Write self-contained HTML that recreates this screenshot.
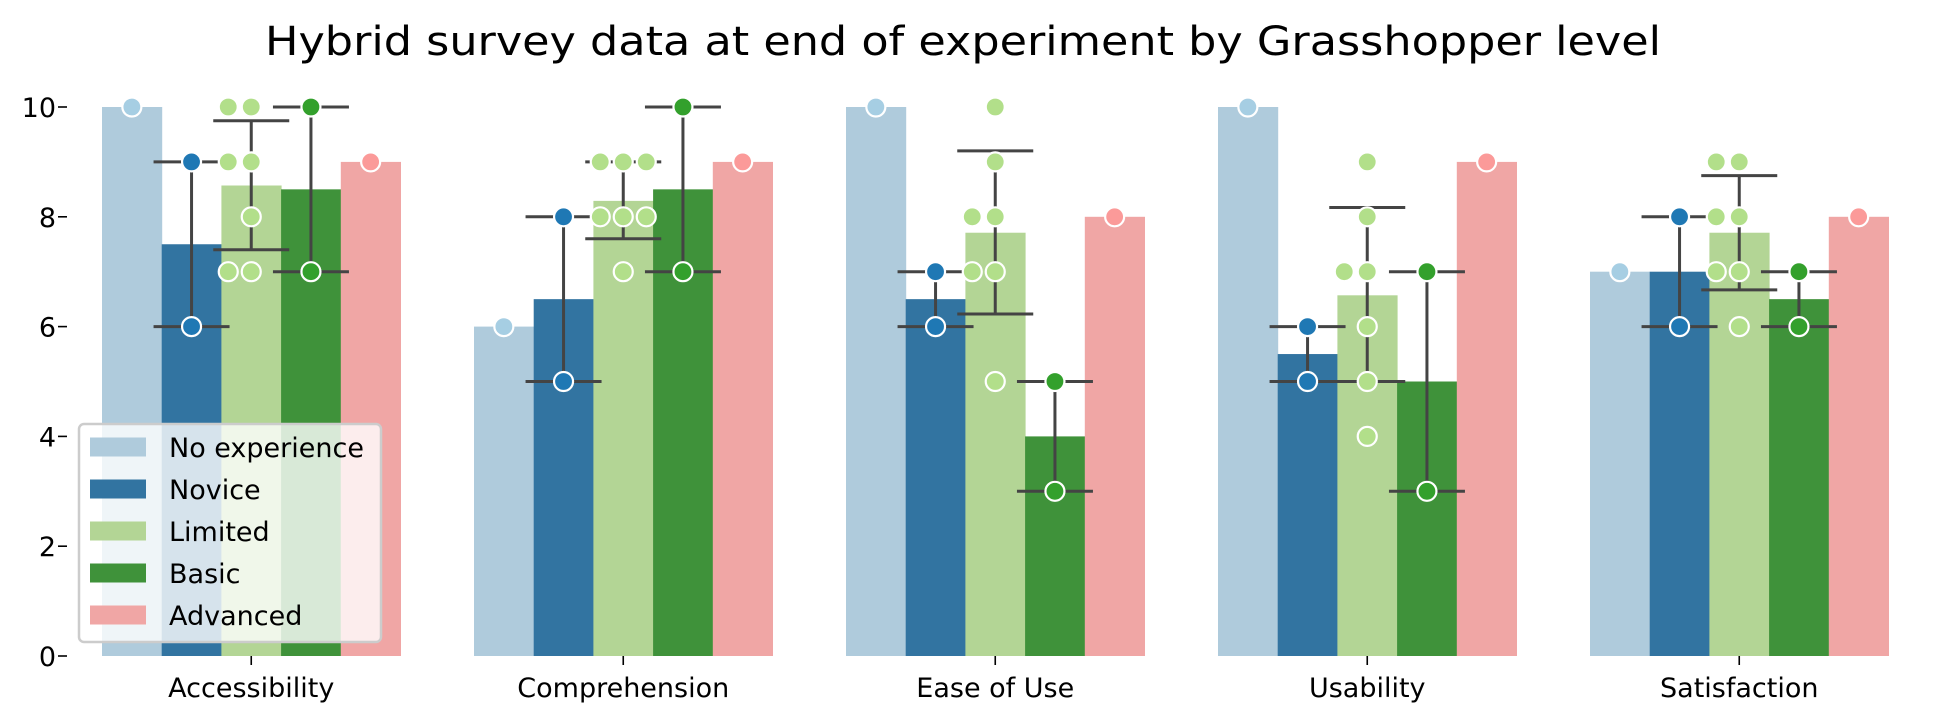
<!DOCTYPE html>
<html><head><meta charset="utf-8"><style>
html,body{margin:0;padding:0;background:#fff}
svg{display:block;font-family:"DejaVu Sans","Liberation Sans",sans-serif}
</style></head><body>
<svg id="chart" width="1944" height="723" viewBox="0 0 1944 723">
<text x="963" y="55" text-anchor="middle" font-size="40" textLength="1396" lengthAdjust="spacingAndGlyphs">Hybrid survey data at end of experiment by Grasshopper level</text>
<g id="axes"></g>
<g id="bars"></g>
<g id="errs"></g>
<g id="dots"></g>
<g id="legend"></g>
</svg>
<script>
const categories = ["Accessibility","Comprehension","Ease of Use","Usability","Satisfaction"];
const levels = ["No experience","Novice","Limited","Basic","Advanced"];
const barColors = ["#afcbdc","#3274a1","#b3d595","#3f923a","#f0a6a5"];
const dotColors = ["#a6cee3","#1f78b4","#b2df8a","#33a02c","#fb9a99"];
const yTicks = [0,2,4,6,8,10];
// means per category, per level
const meanNoExp    = [10, 6, 10, 10, 7];
const meanNovice   = [7.5, 6.5, 6.5, 5.5, 7];
const meanLimited  = [8.57, 8.29, 7.71, 6.57, 7.71];
const meanBasic    = [8.5, 8.5, 4, 5, 6.5];
const meanAdvanced = [9, 9, 8, 9, 8];
// error bar ranges [low, high]
const errNovice  = [[6,9],[5,8],[6,7],[5,6],[6,8]];
const errLimited = [[7.4,9.75],[7.6,9],[6.23,9.2],[5,8.17],[6.67,8.75]];
const errBasic   = [[7,10],[7,10],[3,5],[3,7],[6,7]];
// individual points
const ptsNoExp    = [[10],[6],[10],[10],[7]];
const ptsNovice   = [[9,6],[8,5],[7,6],[6,5],[8,6]];
const ptsLimited  = [[10,10,9,9,8,7,7],[9,9,9,8,8,8,7],[10,9,8,8,7,7,5],[9,8,7,7,6,5,4],[9,9,8,8,7,7,6]];
const ptsBasic    = [[10,7],[10,7],[5,3],[7,3],[7,6]];
const ptsAdvanced = [[9],[9],[8],[9],[8]];

const means=[meanNoExp,meanNovice,meanLimited,meanBasic,meanAdvanced];
const errs=[null,errNovice,errLimited,errBasic,null];
const pts=[ptsNoExp,ptsNovice,ptsLimited,ptsBasic,ptsAdvanced];
const NS="http://www.w3.org/2000/svg";
const Y0=656,Y10=107;
const y=v=>Y0+(Y10-Y0)*v/10;
const G0=102,PITCH=372,BW=59.7;
const barX=(c,l)=>G0+c*PITCH+l*BW;
const catX=c=>G0+c*PITCH+2.5*BW;
function mk(tag,attrs,parent){const e=document.createElementNS(NS,tag);for(const k in attrs)e.setAttribute(k,attrs[k]);parent.appendChild(e);return e;}
const axes=document.getElementById('axes'),bars=document.getElementById('bars'),eg=document.getElementById('errs'),dg=document.getElementById('dots'),lg=document.getElementById('legend');
yTicks.forEach(t=>{
  const l=mk('line',{x1:58,x2:67,y1:y(t),y2:y(t),stroke:'#000','stroke-width':1.6},axes);
  
  
  const tx=mk('text',{x:56,y:y(t)+10,'text-anchor':'end','font-size':27},axes);
  tx.textContent=t;
  
  
});
categories.forEach((c,i)=>{
  const l=mk('line',{x1:catX(i),x2:catX(i),y1:Y0,y2:Y0+9,stroke:'#000','stroke-width':1.6},axes);
  
  
  const tx=mk('text',{x:catX(i),y:697,'text-anchor':'middle','font-size':27},axes);
  tx.textContent=c;
  
  
});
categories.forEach((c,ci)=>{
  levels.forEach((lv,li)=>{
    const v=means[li][ci];
    const r=mk('rect',{x:barX(ci,li),y:y(v),width:BW+0.5,height:Y0-y(v),fill:barColors[li]},bars);
    
    
    const cx=barX(ci,li)+BW/2;
    if(errs[li]){
      const [lo,hi]=errs[li][ci];
      const g=mk('g',{stroke:'#444','stroke-width':3},eg);
      
      
      mk('line',{x1:cx,x2:cx,y1:y(lo),y2:y(hi)},g);
      mk('line',{x1:cx-38,x2:cx+38,y1:y(lo),y2:y(lo)},g);
      mk('line',{x1:cx-38,x2:cx+38,y1:y(hi),y2:y(hi)},g);
    }
    const p=pts[li][ci];const counts={};p.forEach(v=>counts[v]=(counts[v]||0)+1);
    const seen={};
    p.forEach(v=>{
      const n=counts[v],k=seen[v]=(seen[v]||0)+1;
      let off=0;
      if(n===2)off=(k===1?-23:0);
      else if(n===3)off=(k-2)*23;
      const d=mk('circle',{cx:cx+off,cy:y(v),r:9.5,fill:dotColors[li],stroke:'#fff','stroke-width':2.2},dg);
      
      
    });
  });
});
const box=mk('rect',{x:79,y:424,width:302,height:218,rx:5,fill:'rgba(255,255,255,0.8)',stroke:'#ccc','stroke-width':2.5},lg);


levels.forEach((lv,i)=>{
  const cy=447+i*42;
  const g=mk('g',{},lg);
  
  
  mk('rect',{x:90,y:cy-9.5,width:56,height:19,fill:barColors[i]},g);
  const t=mk('text',{x:169,y:cy+10,'font-size':27},g);
  t.textContent=lv;
});
</script>
</body></html>
